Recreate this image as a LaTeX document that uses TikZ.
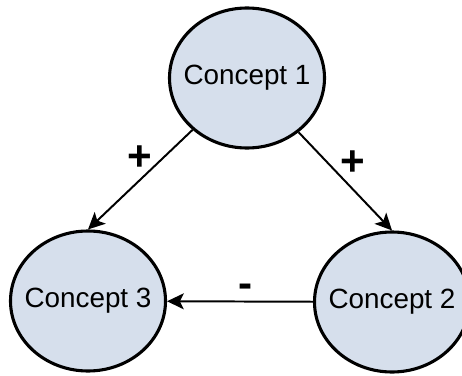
\documentclass[tikz,border=0pt]{standalone}
\usepackage{fontspec}
\setmainfont{Liberation Sans}
\usetikzlibrary{arrows.meta,shapes.geometric}
\definecolor{conceptblue}{RGB}{214,223,236}

\begin{document}
\begin{tikzpicture}[
  concept/.style={ellipse,draw=black,line width=2.2pt,fill=conceptblue,
    minimum width=3.875cm,minimum height=3.5cm,inner xsep=-0.4cm,inner ysep=0pt,
    font=\fontsize{19.8}{22}\selectfont},
  link/.style={line width=1.4pt,-{Stealth[length=4.2mm,width=4mm,inset=1mm]}},
  sign/.style={font=\fontsize{30}{32}\selectfont\bfseries,inner sep=0pt}]
  \useasboundingbox (0,0) rectangle (11.55,9.375);
  % the three concepts
  \node[concept] at (6.175,7.425) (c1) {Concept 1};
  \node[concept] at (2.2,1.85) (c3) {Concept 3};
  \node[concept] at (9.8,1.825) (c2) {Concept 2};
  % influences
  \draw[link] (c1) -- (c3.north);
  \draw[link] (c1) -- (c2.north);
  \draw[link] (c2) -- (c3);
  \node[sign] at (3.5,5.41) (p13) {+};
  \node[sign] at (8.82,5.29) (p12) {+};
  \node[sign] at (6.15,2.1) (m23) {-};
\end{tikzpicture}
\end{document}
